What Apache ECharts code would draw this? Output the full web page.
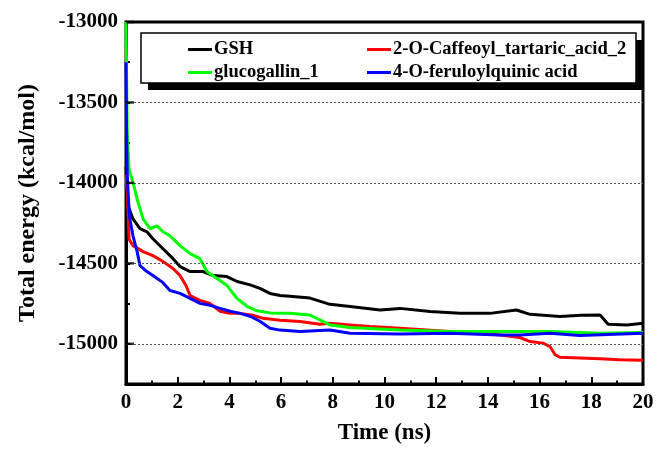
<!DOCTYPE html>
<html>
<head>
<meta charset="utf-8">
<script src="https://cdn.jsdelivr.net/npm/echarts@6/dist/echarts.min.js"></script>
<style>
html,body{margin:0;padding:0;background:#fff;}
#chart{width:657px;height:450px;}
</style>
</head>
<body>
<div id="chart"></div>
<script>
var seriesNames = ['GSH', '2-O-Caffeoyl_tartaric_acid_2', 'glucogallin_1', '4-O-feruloylquinic acid'];
var seriesColors = ['#000000', '#ff0000', '#00ff00', '#0000ff'];

var gshTime = [0, 0.08, 0.27, 0.54, 0.81, 1.04, 1.43, 1.82, 2.09, 2.48, 2.98, 3.37, 3.9, 4.3, 4.8, 5.18, 5.57, 5.96, 6.34, 7.12, 7.89, 8.67, 9.83, 10.6, 11.76, 12.92, 14.08, 15.1, 15.63, 16.79, 17.6, 18.34, 18.65, 19.38, 20];
var gshEnergy = [-13900, -14143, -14224, -14285, -14304, -14347, -14409, -14471, -14520, -14551, -14551, -14576, -14582, -14613, -14634, -14656, -14687, -14700, -14705, -14716, -14755, -14769, -14790, -14780, -14800, -14811, -14811, -14790, -14817, -14831, -14823, -14821, -14879, -14883, -14873];

var cafTime = [0, 0.05, 0.12, 0.27, 0.66, 1.04, 1.43, 1.82, 2.09, 2.32, 2.48, 2.86, 3.25, 3.64, 4.03, 4.41, 4.91, 5.3, 5.96, 6.73, 7.5, 7.89, 8.67, 9.44, 10.6, 12.53, 13.69, 14.47, 15.24, 15.63, 16.13, 16.4, 16.6, 16.79, 18.34, 19.1, 20];
var cafEnergy = [-13950, -14056, -14350, -14390, -14427, -14452, -14489, -14532, -14576, -14638, -14700, -14730, -14749, -14798, -14811, -14811, -14823, -14842, -14854, -14862, -14879, -14873, -14883, -14893, -14903, -14924, -14934, -14945, -14961, -14986, -14996, -15017, -15068, -15084, -15093, -15099, -15103];

var glucTime = [0, 0.02, 0.05, 0.12, 0.27, 0.43, 0.66, 0.93, 1.2, 1.43, 1.7, 2.09, 2.48, 2.86, 3.13, 3.52, 3.91, 4.29, 4.68, 5.07, 5.57, 6.34, 7.12, 7.5, 7.89, 8.67, 10.6, 12.53, 14.47, 16.4, 18.34, 20];
var glucEnergy = [-13000, -13300, -13700, -13920, -13995, -14100, -14224, -14285, -14267, -14304, -14329, -14390, -14440, -14471, -14551, -14594, -14638, -14718, -14767, -14795, -14808, -14811, -14821, -14852, -14883, -14899, -14914, -14924, -14924, -14924, -14934, -14930];

var ferTime = [0, 0.02, 0.05, 0.1, 0.15, 0.27, 0.43, 0.54, 0.81, 1.04, 1.43, 1.7, 2.09, 2.48, 2.86, 3.25, 3.64, 4.03, 4.41, 4.8, 5.18, 5.57, 5.96, 6.73, 7.89, 8.67, 10.6, 12.53, 14.47, 15.24, 16.4, 17.56, 20];
var ferEnergy = [-13250, -13650, -13950, -14120, -14224, -14329, -14427, -14514, -14551, -14576, -14620, -14669, -14687, -14718, -14749, -14761, -14780, -14798, -14811, -14829, -14860, -14903, -14915, -14924, -14914, -14934, -14940, -14934, -14945, -14945, -14934, -14948, -14934];

var yMajorTicks = [-15000, -14500, -14000, -13500, -13000];
var gridLineValues = [-15000, -14500, -14000, -13500];

function pairs(t, v) { return t.map(function (x, i) { return [x, v[i]]; }); }
var allData = [pairs(gshTime, gshEnergy), pairs(cafTime, cafEnergy), pairs(glucTime, glucEnergy), pairs(ferTime, ferEnergy)];

var FONT = '"Liberation Serif", "Times New Roman", serif';
var chart = echarts.init(document.getElementById('chart'), null, {renderer: 'canvas'});

var series = allData.map(function (d, i) {
  var s = {
    name: seriesNames[i], type: 'line', data: d, showSymbol: false, symbol: 'none',
    xAxisIndex: 0, yAxisIndex: 0,
    lineStyle: {color: seriesColors[i], width: 3}, itemStyle: {color: seriesColors[i]},
    z: 3, animation: false
  };
  if (i === 0) {
    s.markLine = {
      silent: true, symbol: 'none', label: {show: false}, animation: false,
      lineStyle: {color: '#555', type: [2, 2], width: 1},
      data: gridLineValues.map(function (v) { return {yAxis: v}; })
    };
  }
  return s;
});
// major y ticks (inward marks at the major tick values)
series.push({
  name: 'majorTicks', type: 'scatter', silent: true, clip: false, z: 6,
  data: yMajorTicks.map(function (v) { return [0, v]; }),
  symbol: 'rect', symbolSize: [8, 2.5], symbolOffset: [4, 0],
  itemStyle: {color: '#000'}, animation: false, tooltip: {show: false}
});

var option = {
  animation: false,
  backgroundColor: '#fff',
  grid: {left: 126, right: 14, top: 22, bottom: 63, show: true, borderColor: '#000', borderWidth: 3, backgroundColor: 'transparent'},
  xAxis: [{
    type: 'value', min: 0, max: 20, interval: 2,
    axisLine: {show: true, lineStyle: {color: '#000', width: 3}},
    axisTick: {show: true, inside: true, length: 7, lineStyle: {color: '#000', width: 2}},
    minorTick: {show: true, splitNumber: 2, length: 3.5, lineStyle: {color: '#000', width: 2}},
    axisLabel: {color: '#000', fontFamily: FONT, fontWeight: 'bold', fontSize: 21, margin: 8},
    splitLine: {show: false},
    name: 'Time (ns)', nameLocation: 'middle', nameGap: 38,
    nameTextStyle: {color: '#000', fontFamily: FONT, fontWeight: 'bold', fontSize: 23}
  }],
  yAxis: [{
    type: 'value', min: -15250, max: -13000, interval: 250,
    axisLine: {show: true, lineStyle: {color: '#000', width: 3}},
    axisTick: {show: true, inside: true, length: 4, lineStyle: {color: '#000', width: 2}},
    axisLabel: {show: false},
    splitLine: {show: false},
    name: 'Total energy (kcal/mol)', nameLocation: 'middle', nameGap: 86,
    nameTextStyle: {color: '#000', fontFamily: FONT, fontWeight: 'bold', fontSize: 24}
  }, {
    type: 'value', min: -15250, max: -13000, interval: 250, position: 'left', offset: 0,
    axisLine: {show: false},
    axisTick: {show: false},
    axisLabel: {show: true, customValues: yMajorTicks, color: '#000', fontFamily: FONT, fontWeight: 'bold', fontSize: 21, margin: 8,
      formatter: function (v) { return String(v); }},
    splitLine: {show: false}
  }],
  legend: [{
    data: [seriesNames[0], seriesNames[2]], orient: 'vertical', left: 183, top: 35,
    icon: 'rect', itemWidth: 24, itemHeight: 3, itemGap: 4, z: 10,
    textStyle: {color: '#000', fontFamily: FONT, fontWeight: 'bold', fontSize: 18.5, lineHeight: 19, padding: [0, 0, 0, -3]}
  }, {
    data: [seriesNames[1], seriesNames[3]], orient: 'vertical', left: 362, top: 35,
    icon: 'rect', itemWidth: 24, itemHeight: 3, itemGap: 4, z: 10,
    textStyle: {color: '#000', fontFamily: FONT, fontWeight: 'bold', fontSize: 18.5, lineHeight: 19, padding: [0, 0, 0, -3]}
  }],
  graphic: [
    {type: 'rect', z: 5, silent: true, shape: {x: 148, y: 40, width: 495, height: 50}, style: {fill: '#000'}},
    {type: 'rect', z: 6, silent: true, shape: {x: 141, y: 33, width: 495, height: 50}, style: {fill: '#fff', stroke: '#000', lineWidth: 1.5}}
  ],
  series: series
};
chart.setOption(option);
</script>
</body>
</html>
